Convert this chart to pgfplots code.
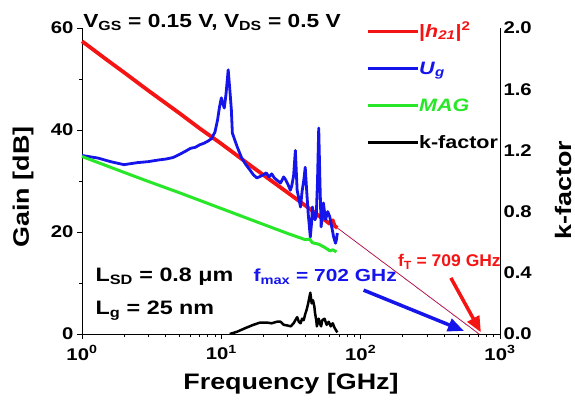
\documentclass[border=0pt]{standalone}
\usepackage{fontspec}
\setmainfont[FakeStretch=1.2]{Liberation Sans}
\usepackage{pgfplots}
\pgfplotsset{compat=1.18}
\usetikzlibrary{arrows.meta}
\definecolor{cRed}{RGB}{245,20,20}
\definecolor{cBlue}{RGB}{20,20,235}
\definecolor{cGreen}{RGB}{40,230,40}
\newcommand{\fs}[1]{\fontsize{#1}{#1}\selectfont\bfseries}

\begin{document}
\begin{tikzpicture}
\begin{axis}[
  name=ax, clip=false,
  width=418bp, height=306bp, scale only axis,
  xmode=log, xmin=1, xmax=1000,
  ymin=0, ymax=60,
  axis x line*=bottom, axis y line*=left,
  axis line style={line width=0.8bp},
  tick style={black, line width=0.8bp},
  major tick length=5bp, minor tick length=3bp,
  tick align=outside,
  tick label style={font=\fs{17}},
  xticklabel style={yshift=-3bp},
  xtick={1,10,100,1000},
  xticklabels={10\textsuperscript{0},10\textsuperscript{1},10\textsuperscript{2},10\textsuperscript{3}},
  ytick={0,20,40,60}, minor ytick={10,30,50},
  /pgf/number format/assume math mode=true,
  xlabel={Frequency [GHz]}, ylabel={Gain [dB]},
  xlabel style={font=\fs{22.5}, at={(rel axis cs:0.5,-0.18)}, anchor=base},
  ylabel style={font=\fs{22.5}, at={(rel axis cs:-0.141,0.48)}, anchor=center},
  legend style={at={(rel axis cs:0.672,1.023)}, anchor=north west, draw=none, fill=none,
    font=\fs{18}, row sep=20bp, nodes={inner sep=0pt, text height=14bp, text depth=3bp},
    /tikz/every even column/.append style={column sep=6bp}},
  legend cell align=left,
  legend image code/.code={\draw[#1, line width=3bp] (0bp,0bp) -- (50bp,0bp);},
]
% |h21|^2
\addplot[cRed, line width=3.8bp, line join=round] coordinates {
 (1,57.4) (1.5,53.8) (2,51.3) (3,47.7) (5,43.3) (7,40.3) (10,37.3) (15,33.7)
 (20,31.2) (30,27.7) (40,25.2) (50,23.2) (55,22.4) (60,21.6) (63,22.3) (65,21.2) (68,20.8)
};
\addlegendentry{\textcolor{cRed}{|\textit{h}\textsubscript{\textit{21}}|\textsuperscript{2}}}
% U
\addplot[cBlue, line width=2.8bp, line join=round] coordinates {
 (1,35) (1.3,34.5) (1.6,33.8) (2,33.2) (2.5,33.6) (3,33.8) (3.5,34.1) (4,34.3) (4.5,34.6)
 (5,35.2) (5.5,35.8) (6,36.4) (6.5,36.6) (7,37.1) (7.5,37.4) (8,37.8) (8.5,38.3) (9,39.6)
 (9.4,42) (9.7,44.5) (10,46.3) (10.3,45) (10.5,44.3) (10.8,47) (11.2,51.8) (11.5,48)
 (11.8,44) (12,39.4) (12.5,38) (13,36.7) (14,34.5) (15,33.2) (16,32.2) (17,31.2) (18,30.6)
 (19,30.9) (20,31.2) (21,31.6) (22,30.8) (23,31.4) (24,30.6) (25,30.2) (26.6,29.6) (28,30.8)
 (29,30.2) (30,29.4) (31.3,28.2) (32,29) (33,31) (34,36) (34.5,32) (35,28.2) (36,26.5)
 (37,24.9) (38,28) (39,30) (40,32.7) (41,28) (42,23.7) (43.5,19) (44.5,22) (45,24.9)
 (46,23.5) (47,22.4) (48,23) (49,30) (50,40.4) (51,30) (52,21) (53,23) (54,25.7) (55,24)
 (56,22.4) (58,24) (60,23) (62,21) (64,19) (66,17.8) (67,18.5) (68,19.8)
};
\addlegendentry{\textcolor{cBlue}{\textit{U}\textsubscript{\textit{g}}}}
% MAG
\addplot[cGreen, line width=3bp, line join=round] coordinates {
 (1,34.8) (2,31.7) (3,29.9) (5,27.7) (10,24.6) (20,21.5) (30,19.7) (40,18.5) (43,18.6)
 (45,17.9) (50,17.6) (55,17.0) (58,16.6) (60,16.3) (63,16.5) (67,16.1)
};
\addlegendentry{\textcolor{cGreen}{\textit{MAG}}}
\addlegendimage{black, line width=2.5bp}
\addlegendentry{k-factor}
% extrapolations
\addplot[cRed, line width=0.7bp, forget plot] coordinates {(68,20.8) (709,0)};
\addplot[cBlue, line width=0.5bp, densely dotted, forget plot] coordinates {(68,20.8) (702,0)};
% annotations
\node[anchor=base, font=\fs{19}] at (rel axis cs:0.311,1.003)
  {V\textsubscript{GS} = 0.15 V, V\textsubscript{DS} = 0.5 V};
\node[anchor=base west, font=\fs{19.5}] at (rel axis cs:0.024,0.173) {L\textsubscript{SD} = 0.8 μm};
\node[anchor=base west, font=\fs{19.5}] at (rel axis cs:0.024,0.065) {L\textsubscript{g} = 25 nm};
\node[anchor=base west, font=\fs{17.5}, text=cBlue] at (rel axis cs:0.402,0.170) {f\textsubscript{max} = 702 GHz};
\node[anchor=base west, font=\fs{17}, text=cRed, xscale=0.86, transform shape] at (rel axis cs:0.749,0.219) {f\textsubscript{T} = 709 GHz};
\draw[cBlue, line width=3.5bp, -{Triangle[length=16bp,width=13bp]}] (axis cs:105,8.6) -- (axis cs:551,0.6);
\draw[cRed, line width=3.5bp, -{Triangle[length=16bp,width=13bp]}] (axis cs:444,11) -- (axis cs:730,0.3);
\end{axis}
\begin{axis}[
  width=418bp, height=306bp, scale only axis,
  xmode=log, xmin=1, xmax=1000,
  ymin=0, ymax=2,
  axis x line=none, axis y line*=right,
  axis line style={line width=0.8bp},
  ytick={0,0.4,0.8,1.2,1.6,2.0},
  major tick length=0pt,
  tick label style={font=\fs{17}},
  /pgf/number format/assume math mode=true,
  yticklabel style={/pgf/number format/.cd, fixed, fixed zerofill, precision=1},
  ylabel={k-factor},
  ylabel style={font=\fs{22.5}, at={(rel axis cs:1.151,0.47)}, anchor=center},
]
\addplot[black, line width=2.5bp, line join=round] coordinates {
 (11.5,0) (13,0.015) (15,0.04) (17,0.06) (19,0.075) (21,0.075) (23,0.07) (25,0.08)
 (26.6,0.08) (28,0.06) (30,0.055) (31.5,0.05) (33,0.07) (35,0.11) (36,0.08) (37,0.07)
 (38,0.1) (39,0.09) (40,0.13) (41,0.16) (42,0.2) (43.5,0.27) (44.5,0.2) (45.5,0.22)
 (46.5,0.18) (47,0.14) (48,0.09) (48.5,0.05) (50,0.1) (51,0.07) (52,0.05) (53,0.09)
 (55,0.1) (57,0.06) (59,0.08) (61,0.05) (63,0.07) (65,0.04) (67,0.02) (68,0.01)
};
\end{axis}
\pgfresetboundingbox
\path[use as bounding box] ([xshift=-82bp,yshift=-66bp]ax.south west)
  rectangle ([xshift=75bp,yshift=28bp]ax.north east);
\end{tikzpicture}
\end{document}
